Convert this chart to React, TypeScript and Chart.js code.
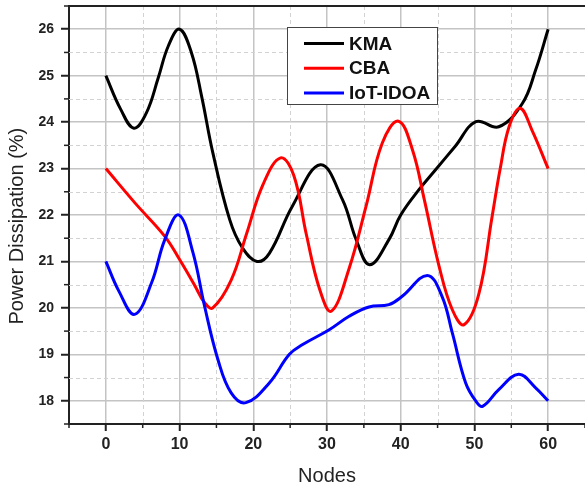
import React, { useEffect, useRef } from "react";
import { Chart, registerables } from "chart.js";

Chart.register(...registerables);

// ---------- data ----------
const seriesLabels = ["KMA", "CBA", "IoT-IDOA"];
const seriesColors = ["#000000", "#ff0000", "#0000ff"];

const kmaNodes = [0, 2, 3.8, 5.5, 7.1, 8.5, 10, 11.6, 13, 14.5, 16.8, 18.5, 20.5, 22.2, 25.3, 29.1, 32.1, 34, 35.8, 38.4, 40, 42.5, 44.7, 47.4, 50.2, 53.3, 56.5, 58.3, 60];
const kmaPower = [25, 24.28, 23.87, 24.2, 24.95, 25.65, 26, 25.5, 24.55, 23.35, 21.9, 21.3, 21.0, 21.18, 22.19, 23.08, 22.33, 21.45, 20.93, 21.47, 22.0, 22.55, 22.97, 23.48, 24.01, 23.9, 24.4, 25.12, 26];

const cbaNodes = [0, 4, 8, 10, 12, 13.4, 14.5, 17, 19.1, 21.3, 23.7, 25.5, 27.2, 29, 30.6, 33, 35.3, 37.5, 39.7, 41.6, 43.2, 45.2, 47, 48.6, 50.6, 52.4, 53.5, 54.7, 56.2, 57.8, 60];
const cbaPower = [23, 22.25, 21.54, 21.04, 20.5, 20.11, 20.0, 20.6, 21.6, 22.65, 23.23, 22.85, 21.58, 20.4, 19.93, 20.85, 22.19, 23.55, 24.02, 23.4, 22.33, 20.9, 19.96, 19.64, 20.3, 21.97, 23.0, 23.9, 24.3, 23.83, 23];

const iotNodes = [0, 1.8, 3.9, 6.2, 8, 9.9, 11.8, 13.4, 15.2, 17, 19, 22.2, 24.9, 26.7, 30.3, 33, 35.7, 38.4, 40.2, 43.6, 45.6, 47, 48.8, 50.2, 51.1, 53.3, 56, 58.3, 60];
const iotPower = [21, 20.35, 19.86, 20.54, 21.47, 22.0, 21.2, 20.03, 18.89, 18.17, 17.96, 18.39, 19.0, 19.21, 19.53, 19.82, 20.02, 20.07, 20.25, 20.7, 20.25, 19.46, 18.39, 17.99, 17.88, 18.24, 18.57, 18.28, 18];

const xTickLabels = [0, 10, 20, 30, 40, 50, 60];
const yTickLabels = [18, 19, 20, 21, 22, 23, 24, 25, 26];

// ---------- styles ----------
const FONT = '"Liberation Sans", Arial, Helvetica, sans-serif';
const AXIS = "#222222";
const MAJOR_GRID = "#c4c4c4";
const MINOR_GRID = "#d2d2d2";

const isMajorX = (v: number) => xTickLabels.includes(v);
const isMajorY = (v: number) => yTickLabels.includes(v);

const toPoints = (xs: number[], ys: number[]) => xs.map((x, i) => ({ x, y: ys[i] }));

const framePlugin = {
  id: "frameMinorLegend",
  beforeDatasetsDraw(chart: any) {
    const { ctx, chartArea: a, scales } = chart;
    const x = scales.x;
    const y = scales.y;
    ctx.save();
    ctx.strokeStyle = MINOR_GRID;
    ctx.lineWidth = 1;
    ctx.setLineDash([4, 3]);
    x.ticks.forEach((t: any) => {
      if (isMajorX(t.value) || t.value <= x.min || t.value >= x.max) return;
      const px = Math.round(x.getPixelForValue(t.value)) + 0.5;
      ctx.beginPath();
      ctx.moveTo(px, a.top);
      ctx.lineTo(px, a.bottom);
      ctx.stroke();
    });
    y.ticks.forEach((t: any) => {
      if (isMajorY(t.value) || t.value <= y.min || t.value >= y.max) return;
      const py = Math.round(y.getPixelForValue(t.value)) + 0.5;
      ctx.beginPath();
      ctx.moveTo(a.left, py);
      ctx.lineTo(a.right, py);
      ctx.stroke();
    });
    ctx.restore();
  },
  afterDraw(chart: any) {
    const { ctx, chartArea: a, scales } = chart;
    const x = scales.x;
    const y = scales.y;
    ctx.save();
    // top frame
    ctx.strokeStyle = AXIS;
    ctx.lineWidth = 2;
    ctx.beginPath();
    ctx.moveTo(a.left - 1, a.top);
    ctx.lineTo(a.right, a.top);
    ctx.stroke();
    // minor tick marks
    ctx.lineWidth = 1.5;
    x.ticks.forEach((t: any) => {
      if (isMajorX(t.value)) return;
      const px = x.getPixelForValue(t.value);
      ctx.beginPath();
      ctx.moveTo(px, a.bottom);
      ctx.lineTo(px, a.bottom + 4);
      ctx.stroke();
    });
    y.ticks.forEach((t: any) => {
      if (isMajorY(t.value)) return;
      const py = y.getPixelForValue(t.value);
      ctx.beginPath();
      ctx.moveTo(a.left, py);
      ctx.lineTo(a.left - 5, py);
      ctx.stroke();
    });
    // legend
    const bx = 287, by = 27, bw = 150, bh = 77;
    ctx.fillStyle = "#ffffff";
    ctx.fillRect(bx, by, bw, bh);
    ctx.strokeStyle = "#444444";
    ctx.lineWidth = 1;
    ctx.strokeRect(bx + 0.5, by + 0.5, bw, bh);
    ctx.font = `bold 19px ${FONT}`;
    ctx.textBaseline = "middle";
    ctx.textAlign = "left";
    chart.data.datasets.forEach((ds: any, i: number) => {
      const ry = by + 16.5 + i * 24.7;
      ctx.strokeStyle = ds.borderColor;
      ctx.lineWidth = 3;
      ctx.beginPath();
      ctx.moveTo(bx + 17, ry);
      ctx.lineTo(bx + 57, ry);
      ctx.stroke();
      ctx.fillStyle = "#111111";
      ctx.fillText(ds.label, bx + 62, ry + 1);
    });
    ctx.restore();
  },
};

export default function App() {
  const ref = useRef<HTMLCanvasElement | null>(null);

  useEffect(() => {
    if (!ref.current) return;
    const seriesNodes = [kmaNodes, cbaNodes, iotNodes];
    const seriesPower = [kmaPower, cbaPower, iotPower];
    const chart = new Chart(ref.current, {
      type: "line",
      data: {
        datasets: seriesLabels.map((label, i) => ({
          label,
          data: toPoints(seriesNodes[i], seriesPower[i]),
          borderColor: seriesColors[i],
          backgroundColor: seriesColors[i],
          borderWidth: 3,
          pointRadius: 0,
          pointHoverRadius: 0,
          fill: false,
          tension: 0.4,
          order: 3 - i,
        })),
      },
      options: {
        responsive: false,
        maintainAspectRatio: false,
        animation: false,
        devicePixelRatio: 1,
        layout: { padding: { top: 6, right: 0, bottom: 0, left: 0 } },
        plugins: {
          legend: { display: false },
          tooltip: { enabled: false },
        },
        scales: {
          x: {
            type: "linear",
            min: -5,
            max: 65,
            afterFit: (scale: any) => {
              scale.height = 64;
              scale.paddingLeft = 0;
              scale.paddingRight = 0;
              scale.paddingTop = 0;
              scale.paddingBottom = 0;
            },
            ticks: {
              stepSize: 5,
              autoSkip: false,
              maxRotation: 0,
              padding: 4,
              color: AXIS,
              font: { family: FONT, size: 16, weight: "bold" },
              callback: (v: any) => (isMajorX(Number(v)) ? String(v) : ""),
            },
            grid: {
              drawTicks: true,
              tickLength: 7,
              tickWidth: 2,
              color: (ctx: any) => (ctx.tick && isMajorX(ctx.tick.value) ? MAJOR_GRID : "rgba(0,0,0,0)"),
              tickColor: (ctx: any) => (ctx.tick && isMajorX(ctx.tick.value) ? AXIS : "rgba(0,0,0,0)"),
              lineWidth: 1.5,
            },
            border: { display: true, color: AXIS, width: 2 },
            title: {
              display: true,
              text: "Nodes",
              color: "#222222",
              font: { family: FONT, size: 20, weight: "normal", lineHeight: 1.2 },
              padding: { top: 0, bottom: 0 },
            },
          },
          y: {
            type: "linear",
            min: 17.5,
            max: 26.5,
            afterFit: (scale: any) => {
              scale.width = 69;
              scale.paddingLeft = 0;
              scale.paddingRight = 0;
              scale.paddingTop = 0;
              scale.paddingBottom = 0;
            },
            ticks: {
              stepSize: 0.5,
              autoSkip: false,
              padding: 7,
              color: AXIS,
              font: { family: FONT, size: 14, weight: "bold" },
              callback: (v: any) => (isMajorY(Number(v)) ? String(v) : ""),
            },
            grid: {
              drawTicks: true,
              tickLength: 8,
              tickWidth: 2,
              color: (ctx: any) => (ctx.tick && isMajorY(ctx.tick.value) ? MAJOR_GRID : "rgba(0,0,0,0)"),
              tickColor: (ctx: any) => (ctx.tick && isMajorY(ctx.tick.value) ? AXIS : "rgba(0,0,0,0)"),
              lineWidth: 1.5,
            },
            border: { display: true, color: AXIS, width: 2 },
            title: {
              display: true,
              text: "Power Dissipation (%)    ",
              color: "#222222",
              font: { family: FONT, size: 20, weight: "normal", lineHeight: 1.2 },
              padding: { top: 5, bottom: 0 },
            },
          },
        },
      },
      plugins: [framePlugin],
    });
    return () => chart.destroy();
  }, []);

  return (
    <div style={{ position: "fixed", left: 0, top: 0, width: 585, height: 488, background: "#ffffff" }}>
      <canvas ref={ref} width={585} height={488} style={{ display: "block" }} />
    </div>
  );
}
